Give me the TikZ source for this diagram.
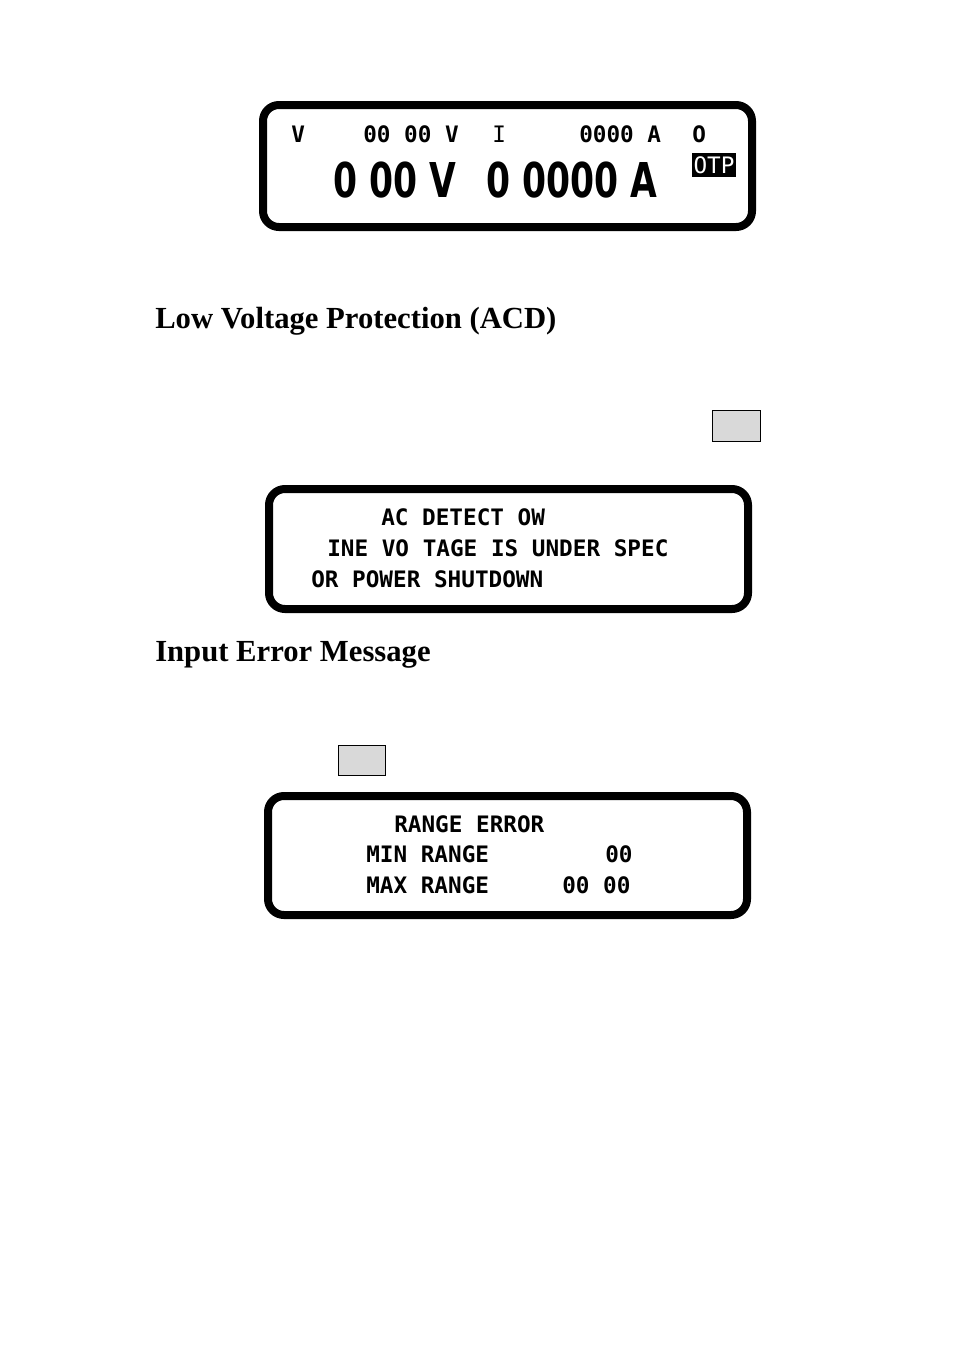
\documentclass[tikz,border=0pt]{standalone}
\usepackage{fontspec}
\setmainfont{Liberation Serif}
\newfontfamily\lcdfont{DejaVu Sans Mono}
\newfontfamily\bigfont{DejaVu Sans Condensed}
\tikzset{
  lcd/.style={draw=black,line width=6pt,rounded corners=12pt},
  key/.style={draw=black,fill=gray!30,line width=0.6pt},
  txt/.style={anchor=west,inner sep=0pt,font=\lcdfont\bfseries\fontsize{17}{17}\selectfont},
  big/.style={anchor=west,inner sep=0pt,font=\bigfont\bfseries\fontsize{36}{36}\selectfont,xscale=0.8},
  head/.style={anchor=west,inner sep=0pt,font=\bfseries\fontsize{23}{23}\selectfont}
}
\begin{document}
\begin{tikzpicture}[x=0.75pt,y=-0.75pt]
                \useasboundingbox (0,0) rectangle (954,1354);
                
                % Output display
                \draw[lcd] (263,105) rectangle (752,227);
                \node[txt] (vlab) at (291,134) {V};
                \node[txt] (vset) at (363,134) {00 00 V};
                \node[txt,font=\lcdfont\fontsize{17}{17}\selectfont] (ilab) at (492,134) {I};
                \node[txt] (iset) at (579,134) {0000 A};
                \node[txt] (olab) at (692,134) {O};
                \node[big] (volt) at (333,180) {0 00 V};
                \node[big] (amp) at (486,180) {0 0000 A};
                \node[fill=black,text=white,inner sep=1pt,minimum width=33pt,minimum height=18pt,font=\lcdfont\fontsize{17}{17}\selectfont] (otp) at (714,165) {OTP};
                
                % Low voltage protection
                \node[head] (acdhead) at (155,321) {Low Voltage Protection (ACD)};
                \draw[key] (712,410) rectangle (760,441);
                \draw[lcd] (269,489) rectangle (748,609);
                \node[txt] (acdone) at (381,517) {AC DETECT  OW};
                \node[txt] (acdtwo) at (327,548) {INE VO TAGE IS UNDER SPEC};
                \node[txt] (acdthree) at (311,579) {OR POWER SHUTDOWN};
                
                % Input error
                \node[head] (errhead) at (155,655) {Input Error Message};
                \draw[key] (338,745) rectangle (385,775);
                \draw[lcd] (268,796) rectangle (747,915);
                \node[txt] (errone) at (394,824) {RANGE ERROR};
                \node[txt] (errtwo) at (366,854) {MIN RANGE};
                \node[txt] (errmin) at (605,854) {00};
                \node[txt] (errthree) at (366,885) {MAX RANGE};
                \node[txt] (errmax) at (562,885) {00 00};
\end{tikzpicture}
\end{document}
